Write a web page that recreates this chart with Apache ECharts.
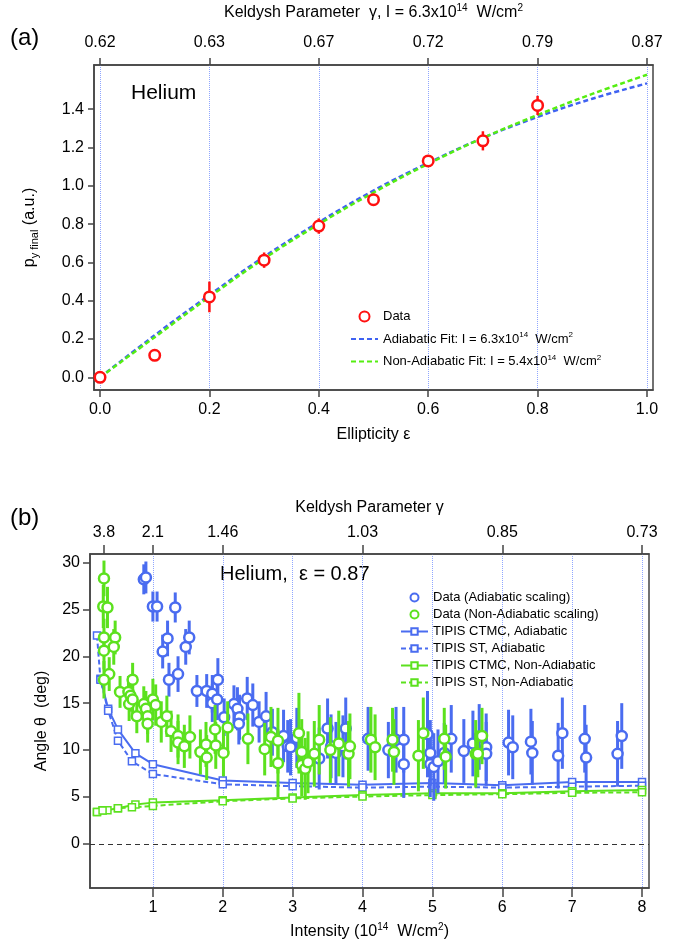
<!DOCTYPE html>
<html><head><meta charset="utf-8">
<script src="https://cdn.jsdelivr.net/npm/echarts@6/dist/echarts.min.js"></script>
<style>html,body{margin:0;padding:0;background:#fff}#c{width:683px;height:943px}</style>
</head><body><div id="c"></div>
<script>
// ---------- Panel (a) ----------
const ellipticity = [0, 0.1, 0.2, 0.3, 0.4, 0.5, 0.6, 0.7, 0.8];
const pyFinal     = [0.0, 0.115, 0.42, 0.612, 0.79, 0.928, 1.13, 1.235, 1.42];
const pyErr       = [0.015, 0.03, 0.08, 0.04, 0.04, 0.03, 0.025, 0.05, 0.05];
const fitEps          = [0, 0.1, 0.2, 0.3, 0.4, 0.5, 0.6, 0.7, 0.8, 0.9, 1.0];
const fitAdiabatic    = [0, 0.22, 0.43, 0.63, 0.81, 0.975, 1.12, 1.25, 1.36, 1.455, 1.535];
const fitNonAdiabatic = [0, 0.21, 0.42, 0.62, 0.80, 0.965, 1.115, 1.25, 1.37, 1.48, 1.58];
const ticksA      = [0, 0.2, 0.4, 0.6, 0.8, 1.0];
const ticksAY     = [0, 0.2, 0.4, 0.6, 0.8, 1.0, 1.2, 1.4];
const gammaLabelsA = ['0.62', '0.63', '0.67', '0.72', '0.79', '0.87'];

// ---------- Panel (b) ----------
const blueI = [0.87,0.90,1.00,1.06,1.14,1.21,1.23,1.32,1.36,1.47,1.52,1.63,1.77,1.85,1.85,1.92,1.93,2.02,2.16,2.21,2.24,2.23,2.35,2.43,2.52,2.62,2.71,2.87,2.93,2.97,3.06,3.38,3.50,3.55,3.62,3.72,3.76,4.08,4.37,4.48,4.59,4.59,4.93,4.97,4.97,5.02,5.08,5.17,5.27,5.45,5.58,5.67,5.77,5.77,6.09,6.15,6.41,6.43,6.80,6.86,7.18,7.20,7.65,7.71];
const blueTheta = [28.2,28.4,25.3,25.3,20.5,21.9,17.5,25.2,18.1,21.0,22.0,16.3,16.3,16.0,15.0,15.4,17.5,13.5,14.9,14.4,13.5,12.8,15.5,14.8,13.0,13.6,11.9,11.5,10.4,10.3,11.3,9.1,12.3,10.4,9.7,10.4,12.3,11.2,10.0,11.1,11.1,8.5,11.7,9.7,8.5,8.2,8.8,9.7,11.2,9.9,10.7,11.4,10.3,9.6,10.8,10.3,10.9,9.7,9.4,11.8,11.2,9.2,9.6,11.5];
const blueErr = [1.6,1.7,1.6,1.6,1.8,1.9,1.8,1.6,1.9,1.9,1.8,1.7,1.8,2.0,2.0,2.2,2.3,2.0,2.0,2.3,2.4,2.2,2.3,2.3,2.2,2.6,2.5,2.8,2.8,3.0,3.2,3.3,3.2,3.4,3.3,3.3,3.3,3.4,3.0,3.5,3.5,3.6,4.6,3.5,3.5,3.6,3.4,3.2,3.6,3.4,3.5,3.5,3.6,3.4,3.5,3.4,3.5,3.4,3.5,3.8,3.6,3.5,3.5,3.5];

const greenI = [0.30,0.29,0.35,0.30,0.46,0.30,0.44,0.375,0.30,0.53,0.65,0.71,0.68,0.66,0.71,0.77,0.87,0.90,0.925,0.925,1.00,1.04,1.12,1.20,1.26,1.36,1.36,1.45,1.53,1.68,1.76,1.77,1.89,1.90,2.01,2.07,2.36,2.60,2.69,2.79,2.79,3.09,3.13,3.13,3.18,3.22,3.31,3.38,3.54,3.66,3.80,3.82,4.12,4.18,4.43,4.45,4.80,4.87,5.17,5.19,5.62,5.65,5.71];
const greenTheta = [28.3,25.3,25.2,22.0,22.0,20.6,21.0,18.1,17.5,16.2,16.2,17.5,15.8,14.9,15.4,13.6,14.9,14.4,13.6,12.8,15.4,14.8,13.0,13.6,12.0,11.5,10.8,10.4,11.4,9.8,10.6,9.2,12.2,10.5,9.7,12.4,11.2,10.1,11.4,11.0,8.6,11.8,9.8,8.4,8.0,8.7,9.6,11.1,10.0,10.7,9.6,10.4,11.1,10.3,11.1,9.8,9.4,11.8,11.2,9.3,9.6,9.6,11.5];
const greenErr = [1.9,2.3,2.2,2.0,1.8,2.0,1.9,1.8,2.0,1.7,1.7,1.8,1.7,1.8,1.8,1.8,1.9,1.9,1.9,2.0,2.2,2.2,2.2,2.2,2.2,2.3,2.3,2.3,2.3,2.4,2.4,2.4,2.6,2.5,2.5,2.8,2.7,2.8,3.2,3.5,3.6,4.3,3.5,3.3,3.3,3.3,3.5,3.7,3.5,3.5,3.5,3.5,3.5,3.5,3.4,3.5,3.8,3.8,3.3,3.4,3.6,2.5,3.0];

const ctmcAdI     = [0.25, 0.36, 0.5, 0.75, 1, 2, 3, 4, 5, 6, 7, 8];
const ctmcAdTheta = [17.6, 14.4, 12.2, 9.65, 8.5, 6.75, 6.5, 6.3, 6.5, 6.25, 6.6, 6.6];
const stAdI       = [0.2, 0.25, 0.36, 0.5, 0.7, 1, 2, 3, 4, 5, 6, 7, 8];
const stAdTheta   = [22.2, 17.5, 14.2, 11.0, 8.8, 7.45, 6.35, 6.15, 6.0, 6.1, 6.0, 6.1, 6.2];
const ctmcNaI     = [0.2, 0.28, 0.35, 0.5, 0.75, 1, 2, 3, 4, 5, 6, 7, 8];
const ctmcNaTheta = [3.4, 3.6, 3.6, 3.8, 4.2, 4.4, 4.65, 4.95, 5.2, 5.4, 5.4, 5.6, 5.75];
const stNaI       = [0.2, 0.28, 0.5, 0.7, 1, 2, 3, 4, 5, 6, 7, 8];
const stNaTheta   = [3.4, 3.55, 3.8, 3.9, 4.05, 4.55, 4.85, 5.05, 5.2, 5.3, 5.45, 5.5];

const ticksB      = [1, 2, 3, 4, 5, 6, 7, 8];
const ticksBY     = [0, 5, 10, 15, 20, 25, 30];
const gammaTicksB  = [0.3, 1, 2, 4, 6, 8];
const gammaLabelsB = ['3.8', '2.1', '1.46', '1.03', '0.85', '0.73'];

// ---------- styling ----------
const FONT = "'Liberation Sans', Arial, Helvetica, sans-serif";
const RED = '#ff1010', BLUE = '#4a6cf0', GREEN = '#5ce11e';
const AXC = '#444';
const zip = (a, b) => a.map((v, i) => [v, b[i]]);

function errSeries(xi, yi, xs, ys, es, color, w, z) {
  return {
    type: 'custom', xAxisIndex: xi, yAxisIndex: yi, silent: true, z: z,
    data: xs.map((x, i) => [x, ys[i] - es[i], ys[i] + es[i]]),
    encode: { x: 0, y: [1, 2] },
    renderItem: (params, api) => {
      const lo = api.coord([api.value(0), api.value(1)]);
      const hi = api.coord([api.value(0), api.value(2)]);
      return { type: 'line', shape: { x1: lo[0], y1: lo[1], x2: hi[0], y2: hi[1] },
               style: { stroke: color, lineWidth: w } };
    }
  };
}
function pts(name, xi, yi, xs, ys, color, size, z) {
  return { name: name, type: 'scatter', xAxisIndex: xi, yAxisIndex: yi, z: z,
    data: zip(xs, ys), symbol: 'circle', symbolSize: size,
    itemStyle: { color: '#fff', borderColor: color, borderWidth: 2.5, opacity: 1 } };
}
const tickLbl = { fontFamily: FONT, fontSize: 16, color: '#000' };
const nameSt = { fontFamily: FONT, fontSize: 16, color: '#000' };
const richTxt = {
  t: { fontFamily: FONT, fontSize: 16, color: '#000', lineHeight: 20 },
  s: { fontFamily: FONT, fontSize: 10, color: '#000', verticalAlign: 'top' },
  b: { fontFamily: FONT, fontSize: 11, color: '#000', verticalAlign: 'bottom' }
};
const legRich = {
  t: { fontFamily: FONT, fontSize: 13, color: '#000', lineHeight: 16 },
  s: { fontFamily: FONT, fontSize: 8, color: '#000', verticalAlign: 'top' }
};
const legNames = {
  'Data': '{t|Data}',
  'Adiabatic Fit': '{t|Adiabatic Fit: I = 6.3x10}{s|14}{t|  W/cm}{s|2}',
  'Non-Adiabatic Fit': '{t|Non-Adiabatic Fit: I = 5.4x10}{s|14}{t|  W/cm}{s|2}'
};

const option = {
  backgroundColor: '#fff',
  animation: false,
  grid: [
    { left: 94, right: 30, top: 65, bottom: 553, show: true, borderColor: AXC, borderWidth: 1.5 },
    { left: 90, right: 34, top: 554, bottom: 55, show: true, borderColor: AXC, borderWidth: 1.5 }
  ],
  xAxis: [
    { type: 'value', gridIndex: 0, min: -0.011, max: 1.011, position: 'bottom',
      name: 'Ellipticity ε', nameLocation: 'middle', nameGap: 37, nameTextStyle: nameSt,
      axisLine: { show: true, onZero: false, lineStyle: { color: AXC, width: 1.5 } },
      axisTick: { show: true, length: 7, customValues: ticksA, lineStyle: { color: AXC, width: 1.5 } },
      axisLabel: { customValues: ticksA, margin: 12, ...tickLbl, formatter: v => v.toFixed(1) },
      splitLine: { show: true, lineStyle: { color: '#8fa6ff', type: 'dotted', width: 1 } } },
    { type: 'value', gridIndex: 0, min: -0.011, max: 1.011, position: 'top',
      name: '{t|Keldysh Parameter  γ, I = 6.3x10}{s|14}{t|  W/cm}{s|2}', nameLocation: 'middle', nameGap: 42,
      nameTextStyle: { rich: richTxt },
      axisLine: { show: true, onZero: false, lineStyle: { color: AXC, width: 1.5 } },
      axisTick: { show: true, length: 7, customValues: ticksA, lineStyle: { color: AXC, width: 1.5 } },
      axisLabel: { customValues: ticksA, margin: 14, ...tickLbl,
        formatter: v => gammaLabelsA[ticksA.findIndex(t => Math.abs(t - v) < 1e-6)] || '' },
      splitLine: { show: false } },
    { type: 'value', gridIndex: 1, min: 0.1, max: 8.1, position: 'bottom',
      name: '{t|Intensity (10}{s|14}{t|  W/cm}{s|2}{t|)}', nameLocation: 'middle', nameGap: 34,
      nameTextStyle: { rich: richTxt },
      axisLine: { show: true, onZero: false, lineStyle: { color: AXC, width: 1.5 } },
      axisTick: { show: true, length: 9, customValues: ticksB, lineStyle: { color: AXC, width: 1.5 } },
      axisLabel: { customValues: ticksB, margin: 12, ...tickLbl },
      splitLine: { show: true, lineStyle: { color: '#8fa6ff', type: 'dotted', width: 1 } } },
    { type: 'value', gridIndex: 1, min: 0.1, max: 8.1, position: 'top',
      name: 'Keldysh Parameter γ', nameLocation: 'middle', nameGap: 38, nameTextStyle: nameSt,
      axisLine: { show: true, onZero: false, lineStyle: { color: AXC, width: 1.5 } },
      axisTick: { show: true, length: 9, customValues: gammaTicksB, lineStyle: { color: AXC, width: 1.5 } },
      axisLabel: { customValues: gammaTicksB, margin: 13, ...tickLbl,
        formatter: v => gammaLabelsB[gammaTicksB.findIndex(t => Math.abs(t - v) < 1e-6)] || '' },
      splitLine: { show: false } }
  ],
  yAxis: [
    { type: 'value', gridIndex: 0, min: -0.066, max: 1.631,
      name: '{t|p}{b|y final}{t| (a.u.)}', nameLocation: 'middle', nameGap: 54, nameTextStyle: { rich: richTxt },
      axisLine: { show: true, onZero: false, lineStyle: { color: AXC, width: 1.5 } },
      axisTick: { show: true, length: 6, customValues: ticksAY, lineStyle: { color: AXC, width: 1.5 } },
      axisLabel: { customValues: ticksAY, margin: 10, ...tickLbl, formatter: v => v.toFixed(1) },
      splitLine: { show: false } },
    { type: 'value', gridIndex: 1, min: -4.7, max: 30.9,
      name: 'Angle θ  (deg)', nameLocation: 'middle', nameGap: 40, nameTextStyle: nameSt,
      axisLine: { show: true, onZero: false, lineStyle: { color: AXC, width: 1.5 } },
      axisTick: { show: true, length: 7, customValues: ticksBY, lineStyle: { color: AXC, width: 1.5 } },
      axisLabel: { customValues: ticksBY, margin: 10, ...tickLbl },
      splitLine: { show: false } }
  ],
  legend: [
    { left: 350, top: 310, padding: 0, orient: 'vertical', itemWidth: 27, itemHeight: 10, itemGap: 8,
      data: ['Data',
             { name: 'Adiabatic Fit', itemStyle: { opacity: 0 } },
             { name: 'Non-Adiabatic Fit', itemStyle: { opacity: 0 } }],
      formatter: n => legNames[n], textStyle: { rich: legRich }, selectedMode: false },
    { left: 400, top: 591, padding: 0, orient: 'vertical', itemWidth: 27, itemHeight: 8, itemGap: 4,
      data: ['Data (Adiabatic scaling)', 'Data (Non-Adiabatic scaling)', 'TIPIS CTMC, Adiabatic',
             'TIPIS ST, Adiabatic', 'TIPIS CTMC, Non-Adiabatic', 'TIPIS ST, Non-Adiabatic'],
      textStyle: { fontFamily: FONT, fontSize: 13, color: '#000' }, selectedMode: false }
  ],
  graphic: [
    { type: 'text', left: 10, top: 26, style: { text: '(a)', font: '24px ' + FONT, fill: '#000' } },
    { type: 'text', left: 10, top: 506, style: { text: '(b)', font: '24px ' + FONT, fill: '#000' } },
    { type: 'text', left: 131, top: 83, style: { text: 'Helium', font: '21px ' + FONT, fill: '#000' } },
    { type: 'text', left: 220, top: 564, style: { text: 'Helium,  ε = 0.87', font: '20px ' + FONT, fill: '#000' } }
  ],
  series: [
    // panel a
    { name: 'Adiabatic Fit', type: 'line', xAxisIndex: 0, yAxisIndex: 0, data: zip(fitEps, fitAdiabatic),
      smooth: 0.4, symbol: 'none', z: 3, lineStyle: { color: '#3f62f2', width: 2.5, type: [5, 3] },
      itemStyle: { color: '#3f62f2' } },
    { name: 'Non-Adiabatic Fit', type: 'line', xAxisIndex: 0, yAxisIndex: 0, data: zip(fitEps, fitNonAdiabatic),
      smooth: 0.4, symbol: 'none', z: 4, lineStyle: { color: '#55ee11', width: 2.5, type: [5, 3] },
      itemStyle: { color: '#55ee11' } },
    errSeries(0, 0, ellipticity, pyFinal, pyErr, RED, 2.5, 5),
    pts('Data', 0, 0, ellipticity, pyFinal, RED, 10.5, 6),
    // panel b theory
    { name: 'TIPIS CTMC, Adiabatic', type: 'line', xAxisIndex: 2, yAxisIndex: 1, data: zip(ctmcAdI, ctmcAdTheta),
      symbol: 'rect', symbolSize: 7, showAllSymbol: true, z: 3,
      lineStyle: { color: BLUE, width: 2 }, itemStyle: { color: '#fff', borderColor: BLUE, borderWidth: 1.5 },
      markLine: { silent: true, symbol: ['none', 'none'], label: { show: false },
        lineStyle: { color: '#333', type: [5, 4], width: 1.2 }, data: [{ yAxis: 0 }] } },
    { name: 'TIPIS ST, Adiabatic', type: 'line', xAxisIndex: 2, yAxisIndex: 1, data: zip(stAdI, stAdTheta),
      symbol: 'rect', symbolSize: 7, showAllSymbol: true, z: 3,
      lineStyle: { color: BLUE, width: 2, type: [5, 3] }, itemStyle: { color: '#fff', borderColor: BLUE, borderWidth: 1.5 } },
    { name: 'TIPIS CTMC, Non-Adiabatic', type: 'line', xAxisIndex: 2, yAxisIndex: 1, data: zip(ctmcNaI, ctmcNaTheta),
      symbol: 'rect', symbolSize: 7, showAllSymbol: true, z: 3,
      lineStyle: { color: GREEN, width: 2 }, itemStyle: { color: '#fff', borderColor: GREEN, borderWidth: 1.5 } },
    { name: 'TIPIS ST, Non-Adiabatic', type: 'line', xAxisIndex: 2, yAxisIndex: 1, data: zip(stNaI, stNaTheta),
      symbol: 'rect', symbolSize: 7, showAllSymbol: true, z: 3,
      lineStyle: { color: GREEN, width: 2, type: [5, 3] }, itemStyle: { color: '#fff', borderColor: GREEN, borderWidth: 1.5 } },
    // panel b data
    errSeries(2, 1, blueI, blueTheta, blueErr, BLUE, 3, 5),
    pts('Data (Adiabatic scaling)', 2, 1, blueI, blueTheta, BLUE, 10, 6),
    errSeries(2, 1, greenI, greenTheta, greenErr, GREEN, 3, 7),
    pts('Data (Non-Adiabatic scaling)', 2, 1, greenI, greenTheta, GREEN, 10, 8)
  ]
};
const chart = echarts.init(document.getElementById('c'), null, { renderer: 'canvas' });
chart.setOption(option);
</script></body></html>
